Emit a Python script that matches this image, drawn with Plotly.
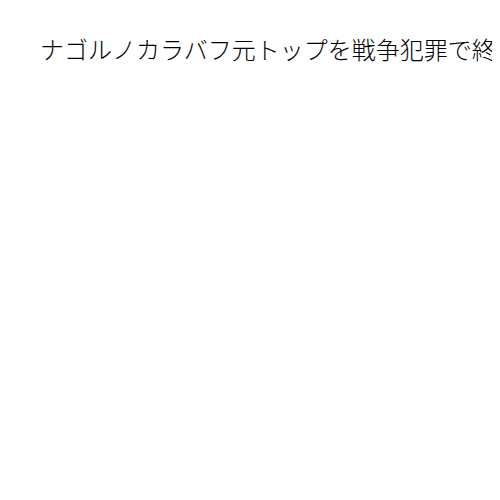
import plotly.graph_objects as go

# the reference shows only a headline; the plot area itself is empty
title_text = "ナゴルノカラバフ元トップを戦争犯罪で終"
x_values = []
y_values = []

fig = go.Figure()

fig.add_trace(go.Scatter(
    x=x_values,
    y=y_values,
    mode='lines',
    showlegend=False,
    hoverinfo='skip'
))

fig.update_layout(
    title={
        'text': title_text,
        'xref': 'container',
        'yref': 'container',
        'x': 0.064,
        'xanchor': 'left',
        'y': 0.914,
        'yanchor': 'middle',
        'font': {'family': 'Noto Sans CJK JP', 'size': 24, 'color': '#000000', 'weight': 300}
    },
    width=500,
    height=500,
    margin=dict(l=40, r=20, t=100, b=40),
    plot_bgcolor='#ffffff',
    paper_bgcolor='#ffffff',
    xaxis=dict(visible=False),
    yaxis=dict(visible=False),
    showlegend=False
)

fig.write_html("out.html")
